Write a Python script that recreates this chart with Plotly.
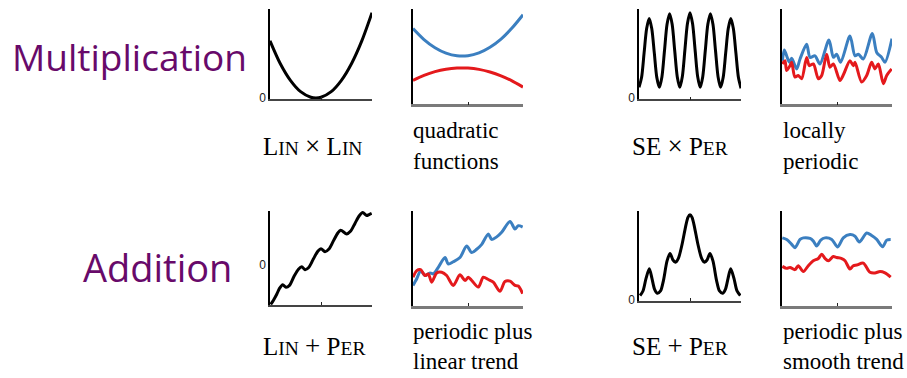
import plotly.graph_objects as go

W, H = 907, 378

# ---- curve samples (x on a 0-100 scale across each panel) ----
lin_x_lin_x = [0, 10, 20, 30, 40, 45, 50, 60, 70, 80, 90, 100]
lin_x_lin_y = [59, 35.6, 18.2, 6.5, 0.7, 0, 0.7, 6.5, 18.2, 35.6, 58.9, 88]

quad_x = [0, 10, 20, 30, 40, 50, 60, 70, 80, 90, 100]
quad_blue = [77, 65.8, 57.5, 52, 49.3, 49.4, 52.3, 58, 66.3, 77.5, 91]
quad_red = [24.3, 29.4, 33.2, 35.7, 36.9, 36.8, 35.5, 32.8, 28.9, 23.8, 17.5]

se_x_per_x = [0, 2.5, 5, 7.5, 10, 12.5, 15, 17.5, 20, 22.5, 25, 27.5, 30, 32.5, 35, 37.5,
              40, 42.5, 45, 47.5, 50, 52.5, 55, 57.5, 60, 62.5, 65, 67.5, 70, 72.5, 75,
              77.5, 80, 82.5, 85, 87.5, 90, 92.5, 95, 97.5, 100]
se_x_per_y = [11, 21, 46.5, 71.6, 82, 71.6, 46.5, 21, 11, 22, 49, 76, 87, 76, 49, 22,
              11, 22.2, 49.5, 76.8, 88, 76.8, 49.5, 22.2, 11, 22, 49, 76, 87, 76, 49,
              22, 11, 21, 46.5, 71.6, 82, 71.6, 46.5, 21, 10]

loc_blue_x = [0.3, 2.1, 4.2, 6.7, 8.8, 13.3, 16.4, 22.4, 25.5, 30, 34.5, 42.7, 46.7, 49.7,
              53.3, 61.8, 66.4, 69.4, 73.9, 82.1, 86.1, 90.6, 93.6, 100]
loc_blue_y = [44.3, 55.3, 49.3, 42.7, 46.7, 36, 46, 61, 47.7, 49.3, 41, 65.3, 47.7, 51,
              42.7, 69.3, 49.3, 51, 46, 72, 52.7, 47.7, 42.7, 66.7]
loc_red_x = [0.3, 2.7, 4.2, 7.3, 8.8, 11.8, 14.8, 17.9, 22.4, 24.8, 28.5, 33, 36.1, 40.6,
             43.6, 46.7, 52.7, 55.8, 61.8, 64.8, 66.4, 72.4, 77, 81.5, 84.5, 87.6, 92.1,
             95.2, 99.7]
loc_red_y = [41, 44.3, 34.3, 39.3, 42.7, 27.7, 29.3, 26, 47.7, 39.3, 41, 26, 29.3, 51,
             37.7, 41, 24.3, 30, 44.3, 39.3, 42.7, 22.7, 29.3, 42.7, 36, 41, 21, 29.3, 36]

lin_p_per_x = [0.7, 3.4, 6.6, 9.3, 12.5, 15.7, 19.1, 23.5, 27.9, 31.1, 34.3, 38.2, 42.6,
               47.1, 50, 53.9, 57.8, 62.3, 66.7, 69.3, 75.2, 78.9, 83.3, 87.7, 90.9, 94.8,
               97.1, 99.7]
lin_p_per_y = [-40.3, -36, -30, -24, -20.3, -23, -21, -12, -4.5, -2, -5, -2.5, 6, 14,
               16.3, 13.3, 16, 24.5, 32.5, 35, 31.3, 34, 42, 50, 53, 50, 51, 52.3]

trend_blue_x = [0, 3.4, 7, 10.9, 15.5, 18.5, 23, 29.1, 32.1, 36.6, 42.7, 48.8, 53.4, 57.9,
                62.5, 68.5, 71.5, 76.1, 80.6, 88.2, 92.7, 95.7, 99.7]
trend_blue_y = [21, 27.7, 36, 31, 33.7, 32.7, 39.3, 49.3, 42.7, 45, 49.3, 61, 54.3, 57.7,
                62.7, 73.3, 67.7, 70.3, 75, 86, 78.3, 81.7, 80.3]
trend_red_x = [0, 3.4, 7, 10.9, 13.9, 17, 21.5, 26.1, 30.6, 36.6, 42.7, 47.3, 50.3, 53.4,
               59.4, 63.9, 68.5, 73, 79.1, 83.6, 88.2, 92.7, 95.7, 99.7]
trend_red_y = [29.3, 36, 37, 31, 32.7, 24.3, 33.7, 34.3, 31, 21, 31.7, 26, 29.3, 26,
               19.3, 29.3, 27, 24.3, 15, 25, 25.3, 21, 20.3, 12.7]

se_p_per_x = [1, 3.9, 6.9, 10.1, 12.7, 15.2, 17.9, 21.1, 24, 27.5, 30.4, 33.3, 35.8, 38.7,
              42.2, 45.6, 48, 50, 52, 54.4, 57.8, 61.3, 64.2, 66.7, 69.6, 72.5, 76, 78.9,
              82.1, 84.8, 87.3, 89.9, 93.1, 96.1, 99.3]
se_p_per_y = [4.3, 9, 22, 32, 22, 11, 6.7, 9, 20, 40, 47.7, 41, 38.7, 43, 57, 75, 85, 87.7,
              85, 75, 57, 43, 38.7, 41, 47.7, 40, 20, 9, 6.7, 11, 22, 32, 22, 9, 4.3]

smooth_blue_x = [0.3, 4.3, 8.8, 11.8, 16.4, 19.4, 25.5, 28.5, 31.5, 35.2, 39.1, 45.2, 50.6,
                 55.7, 61.8, 66.4, 70.3, 77, 81.5, 86.1, 91.5, 95.2, 98.8]
smooth_blue_y = [69.3, 67.7, 62.7, 59.3, 67.7, 69.3, 68.7, 66, 61, 67, 69.3, 67.7, 60,
                 69.3, 72.7, 71, 65, 74.3, 71.7, 67.7, 60.3, 67, 67.7]
smooth_red_x = [0.3, 4.3, 7.3, 11.8, 14.8, 19.4, 23.9, 28.5, 33, 36.1, 39.1, 42.1, 46.6,
                49.7, 54.3, 57.3, 61.8, 64.8, 67.9, 73.9, 80, 84.5, 89.1, 93.6, 98.8]
smooth_red_y = [40.3, 38.3, 39.3, 37, 41, 35, 41, 46, 48.3, 52.7, 48.3, 46, 50.3, 49.3,
                48.3, 46, 37.7, 41, 41.7, 43.7, 34.3, 33.7, 35, 33.7, 29.3]

BLUE = "#3b7fc0"
RED = "#e4191c"
PURPLE = "#680a6a"

# panel boxes in pixels: left, right, top, bottom, y-range, show "0", bottom line style
panels = [
    (270, 372, 9, 101, [-1.5, 92], True, "#444", 1.5),
    (413, 523, 9, 106, [0, 97], False, "#7a7a7a", 2.5),
    (639, 741, 9, 101, [-1.5, 92], True, "#444", 1.5),
    (782, 892, 9, 106, [0, 97], False, "#7a7a7a", 2.5),
    (270, 372, 214, 310, [-41, 55], True, "#444", 1.5),
    (413, 523, 214, 311, [0, 97], False, "#7a7a7a", 2.5),
    (639, 741, 214, 306, [-1.5, 92], True, "#444", 1.5),
    (782, 892, 214, 311, [0, 97], False, "#7a7a7a", 2.5),
]

series = [
    [(lin_x_lin_x, lin_x_lin_y, "black")],
    [(quad_x, quad_blue, BLUE), (quad_x, quad_red, RED)],
    [(se_x_per_x, se_x_per_y, "black")],
    [(loc_blue_x, loc_blue_y, BLUE), (loc_red_x, loc_red_y, RED)],
    [(lin_p_per_x, lin_p_per_y, "black")],
    [(trend_blue_x, trend_blue_y, BLUE), (trend_red_x, trend_red_y, RED)],
    [(se_p_per_x, se_p_per_y, "black")],
    [(smooth_blue_x, smooth_blue_y, BLUE), (smooth_red_x, smooth_red_y, RED)],
]

fig = go.Figure()
layout = {}
for i, (box, lines) in enumerate(zip(panels, series), start=1):
    L, R, T, B, yr, zero, bcol, bw = box
    sfx = "" if i == 1 else str(i)
    for xs, ys, col in lines:
        fig.add_trace(go.Scatter(
            x=xs, y=ys, mode="lines", line=dict(color=col, width=3, shape="spline", smoothing=0.8),
            xaxis="x" + sfx, yaxis="y" + sfx, showlegend=False, hoverinfo="skip"))
    layout["xaxis" + sfx] = dict(
        domain=[L / W, R / W], anchor="y" + sfx, range=[0, 100],
        showline=True, linecolor=bcol, linewidth=bw, showgrid=False, zeroline=False,
        tickvals=[50], ticktext=[""], ticks="inside", ticklen=3, tickcolor="#222", tickwidth=1)
    layout["yaxis" + sfx] = dict(
        domain=[1 - B / H, 1 - T / H], anchor="x" + sfx, range=yr,
        showline=True, linecolor="black", linewidth=1.5, showgrid=False, zeroline=False,
        tickvals=[0] if zero else [], ticktext=["0"] if zero else [], ticks="",
        tickfont=dict(family="Liberation Sans", size=12, color="#222"))

SERIF = "Liberation Serif, Times New Roman, serif"


def sc(head, tail, small=19.5):
    # small-caps look: full-size initial, reduced capitals after it
    return f"{head}<span style='font-size:{small}px'>{tail}</span>"


ann = []


def txt(s, x, y, size=23, family=SERIF, color="black", xanchor="left"):
    ann.append(dict(text=s, x=x / W, y=1 - y / H, xref="paper", yref="paper",
                    xanchor=xanchor, yanchor="middle", showarrow=False,
                    font=dict(family=family, size=size, color=color)))


TIMES = " <span style='font-size:27px'>×</span> "
PLUS = " <span style='font-size:27px'>+</span> "

txt("Multiplication", 10, 57, size=37, family="Open Sans", color=PURPLE)
txt("Addition", 81, 271, size=38, family="Open Sans", color=PURPLE)

txt(sc("L", "IN") + TIMES + sc("L", "IN"), 261, 148, size=25)
txt("quadratic", 411, 133)
txt("functions", 411, 164)
txt("SE" + TIMES + sc("P", "ER"), 630, 148, size=25)
txt("locally", 781, 133)
txt("periodic", 781, 164)

txt(sc("L", "IN") + PLUS + sc("P", "ER"), 261, 352, size=25)
txt("periodic plus", 411, 337)
txt("linear trend", 411, 367)
txt("SE" + PLUS + sc("P", "ER"), 630, 352, size=25)
txt("periodic plus", 781, 337)
txt("smooth trend", 781, 367)

fig.update_layout(
    width=W, height=H, margin=dict(l=0, r=0, t=0, b=0),
    paper_bgcolor="white", plot_bgcolor="white", annotations=ann, **layout)

fig.write_html("out.html")
